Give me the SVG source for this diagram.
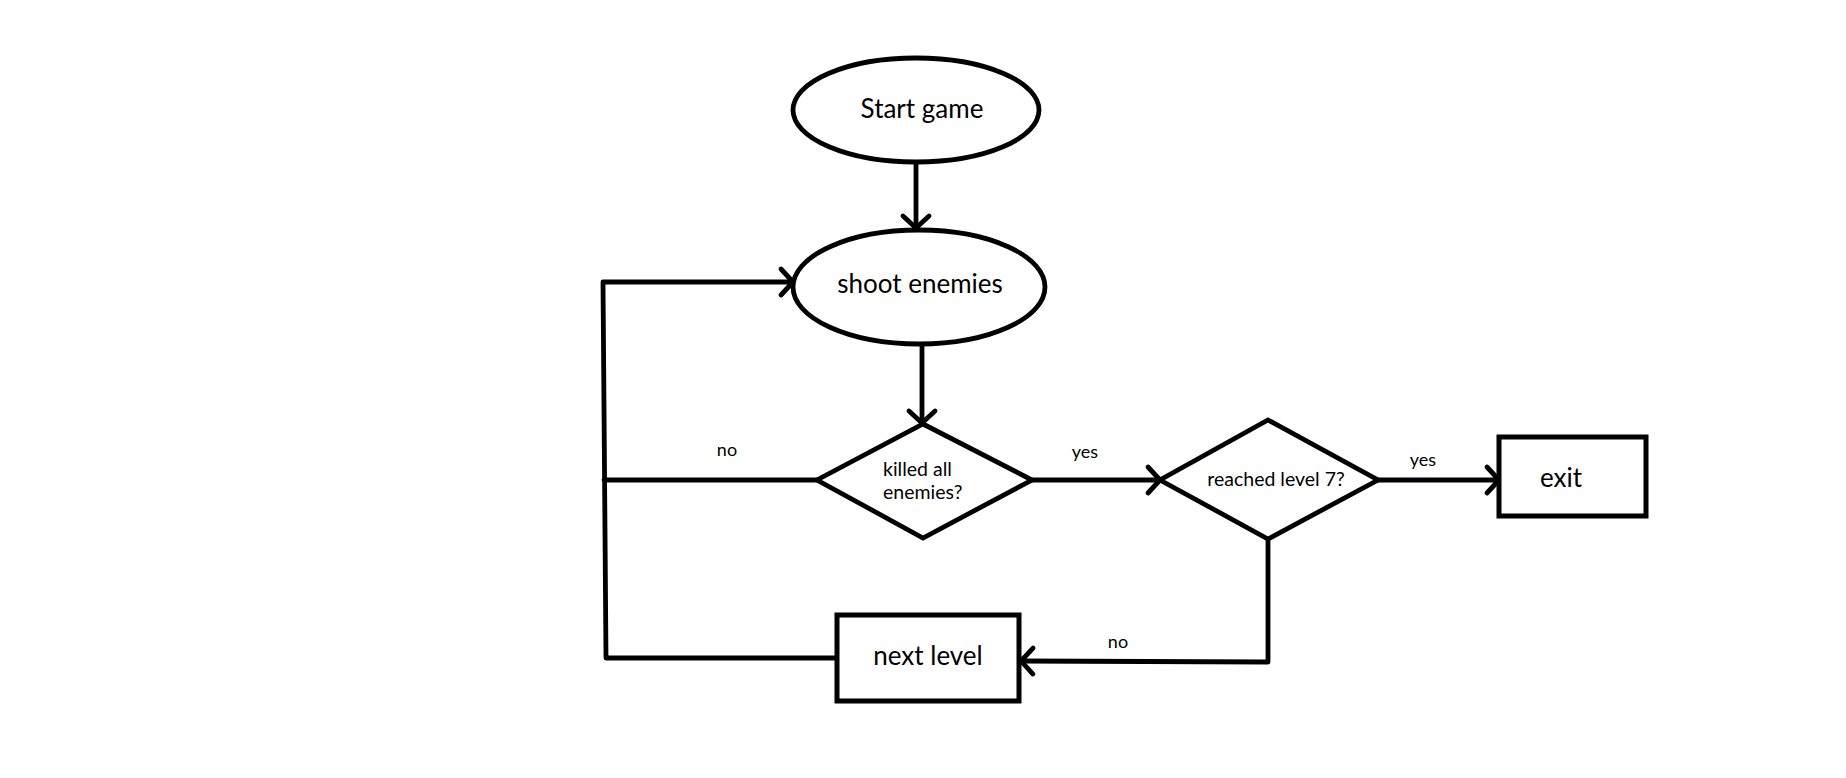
<svg xmlns="http://www.w3.org/2000/svg" width="1846" height="778" viewBox="0 0 1846 778">
<style>
.shape{fill:#fff;stroke:#000;stroke-width:4.8}
.box{fill:#fff;stroke:#000;stroke-width:5}
.line{fill:none;stroke:#000;stroke-width:4.8;stroke-linecap:round;stroke-linejoin:round}
.t{font-family:Lato,"Open Sans",sans-serif;fill:#000}
.big{font-size:26px;text-anchor:middle}
.mid{font-size:19.5px}
.small{font-size:18px;text-anchor:middle}
</style>
<defs>
<marker id="arr" markerUnits="userSpaceOnUse" markerWidth="30" markerHeight="30" refX="15" refY="15" orient="auto" overflow="visible">
<path d="M3,2 L15,15 L3,28" fill="none" stroke="#000" stroke-width="4.8" stroke-linecap="round" stroke-linejoin="round"/>
</marker>
</defs>
<rect width="1846" height="778" fill="#fff"/>
<g id="connectors">
<line class="line" x1="916" y1="163" x2="916" y2="228" marker-end="url(#arr)"/>
<line class="line" x1="922" y1="344" x2="922" y2="423" marker-end="url(#arr)"/>
<polyline class="line" points="817,480 604,480"/>
<polyline class="line" points="837,658 606,658 603,282 793,282" marker-end="url(#arr)"/>
<line class="line" x1="1032" y1="480" x2="1160" y2="480" marker-end="url(#arr)"/>
<line class="line" x1="1378" y1="480" x2="1499" y2="480" marker-end="url(#arr)"/>
<polyline class="line" points="1268,539 1268,662 1021,661" marker-end="url(#arr)"/>
<text class="t small" x="727" y="456">no</text>
<text class="t small" x="1085" y="458">yes</text>
<text class="t small" x="1423" y="466">yes</text>
<text class="t small" x="1118" y="648">no</text>
</g>
<g id="start">
<ellipse class="shape" cx="916" cy="110" rx="123" ry="52"/>
<text class="t big" x="922" y="118">Start game</text>
</g>
<g id="shoot">
<ellipse class="shape" cx="919" cy="287" rx="126" ry="57"/>
<text class="t big" x="920" y="293">shoot enemies</text>
</g>
<g id="killed">
<polygon class="shape" points="923,424 1032,480 923,538 817,480"/>
<text class="t mid" x="883" y="476">killed all</text>
<text class="t mid" x="883" y="499">enemies?</text>
</g>
<g id="reached">
<polygon class="shape" points="1268,420 1378,480 1268,539 1160,480"/>
<text class="t mid" x="1276" y="486" text-anchor="middle">reached level 7?</text>
</g>
<g id="exit">
<rect class="box" x="1499" y="437" width="147" height="79"/>
<text class="t big" x="1561" y="487">exit</text>
</g>
<g id="next">
<rect class="box" x="837" y="615" width="182" height="86"/>
<text class="t big" x="928" y="665">next level</text>
</g>
</svg>
